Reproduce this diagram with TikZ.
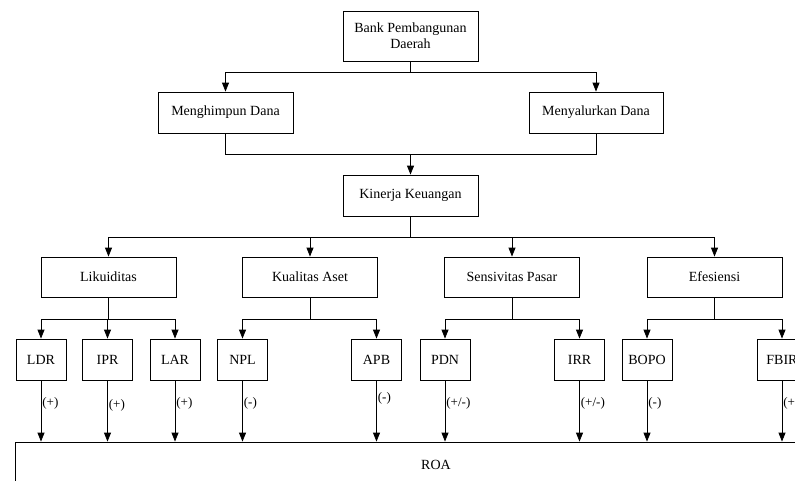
\documentclass[tikz,border=0pt]{standalone}
\usepackage{fontspec}
\setmainfont{Liberation Serif}
\usetikzlibrary{arrows.meta}
\tikzset{
  box/.style={draw, line width=0.8pt, inner sep=0pt, align=center, font=\fontsize{14}{16}\selectfont},
  mid/.style={box, minimum width=135pt, minimum height=41pt},
  sub/.style={box, minimum width=50pt, minimum height=41pt},
  conn/.style={line width=0.8pt},
  arr/.style={line width=0.8pt, -{Triangle[length=9pt,width=7pt]}},
  lab/.style={font=\fontsize{13}{15}\selectfont, inner sep=1pt, anchor=west}
}
\begin{document}
\begin{tikzpicture}[x=1pt,y=-1pt]
\useasboundingbox (0,0) rectangle (795,480);
\clip (0,0) rectangle (795,480);
\fill[white] (0,0) rectangle (795,480);
% top
\node[box, minimum width=135pt, minimum height=50pt] (bank) at (410.5,36) {Bank Pembangunan\\Daerah};
\node[mid] (mh) at (225.5,112.5) {Menghimpun Dana};
\node[mid, minimum width=134pt] (ms) at (596,112.5) {Menyalurkan Dana};
\node[mid] (kk) at (410.5,195.5) {Kinerja Keuangan};
% level 3
\node[mid, minimum height=40pt] (lik) at (108.5,277) {Likuiditas};
\node[mid, minimum height=40pt] (kua) at (310,277) {Kualitas Aset};
\node[mid, minimum height=40pt] (sen) at (512,277) {Sensivitas Pasar};
\node[mid, minimum height=40pt] (efe) at (714.5,277) {Efesiensi};
% level 4
\node[sub] (ldr) at (41,359.5) {LDR};
\node[sub] (ipr) at (107.5,359.5) {IPR};
\node[sub] (lar) at (175,359.5) {LAR};
\node[sub] (npl) at (242.5,359.5) {NPL};
\node[sub] (apb) at (376.5,359.5) {APB};
\node[sub] (pdn) at (445,359.5) {PDN};
\node[sub] (irr) at (579.5,359.5) {IRR};
\node[sub] (bopo) at (647,359.5) {BOPO};
\node[sub] (fbir) at (782,359.5) {FBIR};
% ROA
\node[box, minimum width=842pt, minimum height=46pt] (roa) at (436,465) {ROA};
% connectors top
\coordinate (j1) at (410.5,72);
\draw[conn] (bank.south) -- (j1);
\draw[arr] (j1) -| (mh.north);
\draw[arr] (j1) -| (ms.north);
\draw[conn] (mh.south) -- ++(0,21) -| (ms.south);
\coordinate (j2) at (410.5,154);
\draw[arr] (j2) -- (kk.north);
\coordinate (j3) at (410.5,237);
\draw[conn] (kk.south) -- (j3);
\draw[arr] (j3) -| (lik.north);
\draw[arr] (j3) -| (kua.north);
\draw[arr] (j3) -| (sen.north);
\draw[arr] (j3) -| (efe.north);
% groups
\draw[conn] (lik.south) -- ++(0,22) coordinate (g1);
\draw[arr] (g1) -| (ldr.north);
\draw[arr] (g1) -| (ipr.north);
\draw[arr] (g1) -| (lar.north);
\draw[conn] (kua.south) -- ++(0,22) coordinate (g2);
\draw[arr] (g2) -| (npl.north);
\draw[arr] (g2) -| (apb.north);
\draw[conn] (sen.south) -- ++(0,22) coordinate (g3);
\draw[arr] (g3) -| (pdn.north);
\draw[arr] (g3) -| (irr.north);
\draw[conn] (efe.south) -- ++(0,22) coordinate (g4);
\draw[arr] (g4) -| (bopo.north);
\draw[arr] (g4) -| (fbir.north);
% to ROA
\draw[arr] (ldr.south) -- (ldr.south |- roa.north) node[lab, pos=0.37] {(+)};
\draw[arr] (ipr.south) -- (ipr.south |- roa.north) node[lab, pos=0.4] {(+)};
\draw[arr] (lar.south) -- (lar.south |- roa.north) node[lab, pos=0.37] {(+)};
\draw[arr] (npl.south) -- (npl.south |- roa.north) node[lab, pos=0.37] {(-)};
\draw[arr] (apb.south) -- (apb.south |- roa.north) node[lab, pos=0.3] {(-)};
\draw[arr] (pdn.south) -- (pdn.south |- roa.north) node[lab, pos=0.37] {(+/-)};
\draw[arr] (irr.south) -- (irr.south |- roa.north) node[lab, pos=0.37] {(+/-)};
\draw[arr] (bopo.south) -- (bopo.south |- roa.north) node[lab, pos=0.37] {(-)};
\draw[arr] (fbir.south) -- (fbir.south |- roa.north) node[lab, pos=0.37] {(+)};
\end{tikzpicture}
\end{document}
